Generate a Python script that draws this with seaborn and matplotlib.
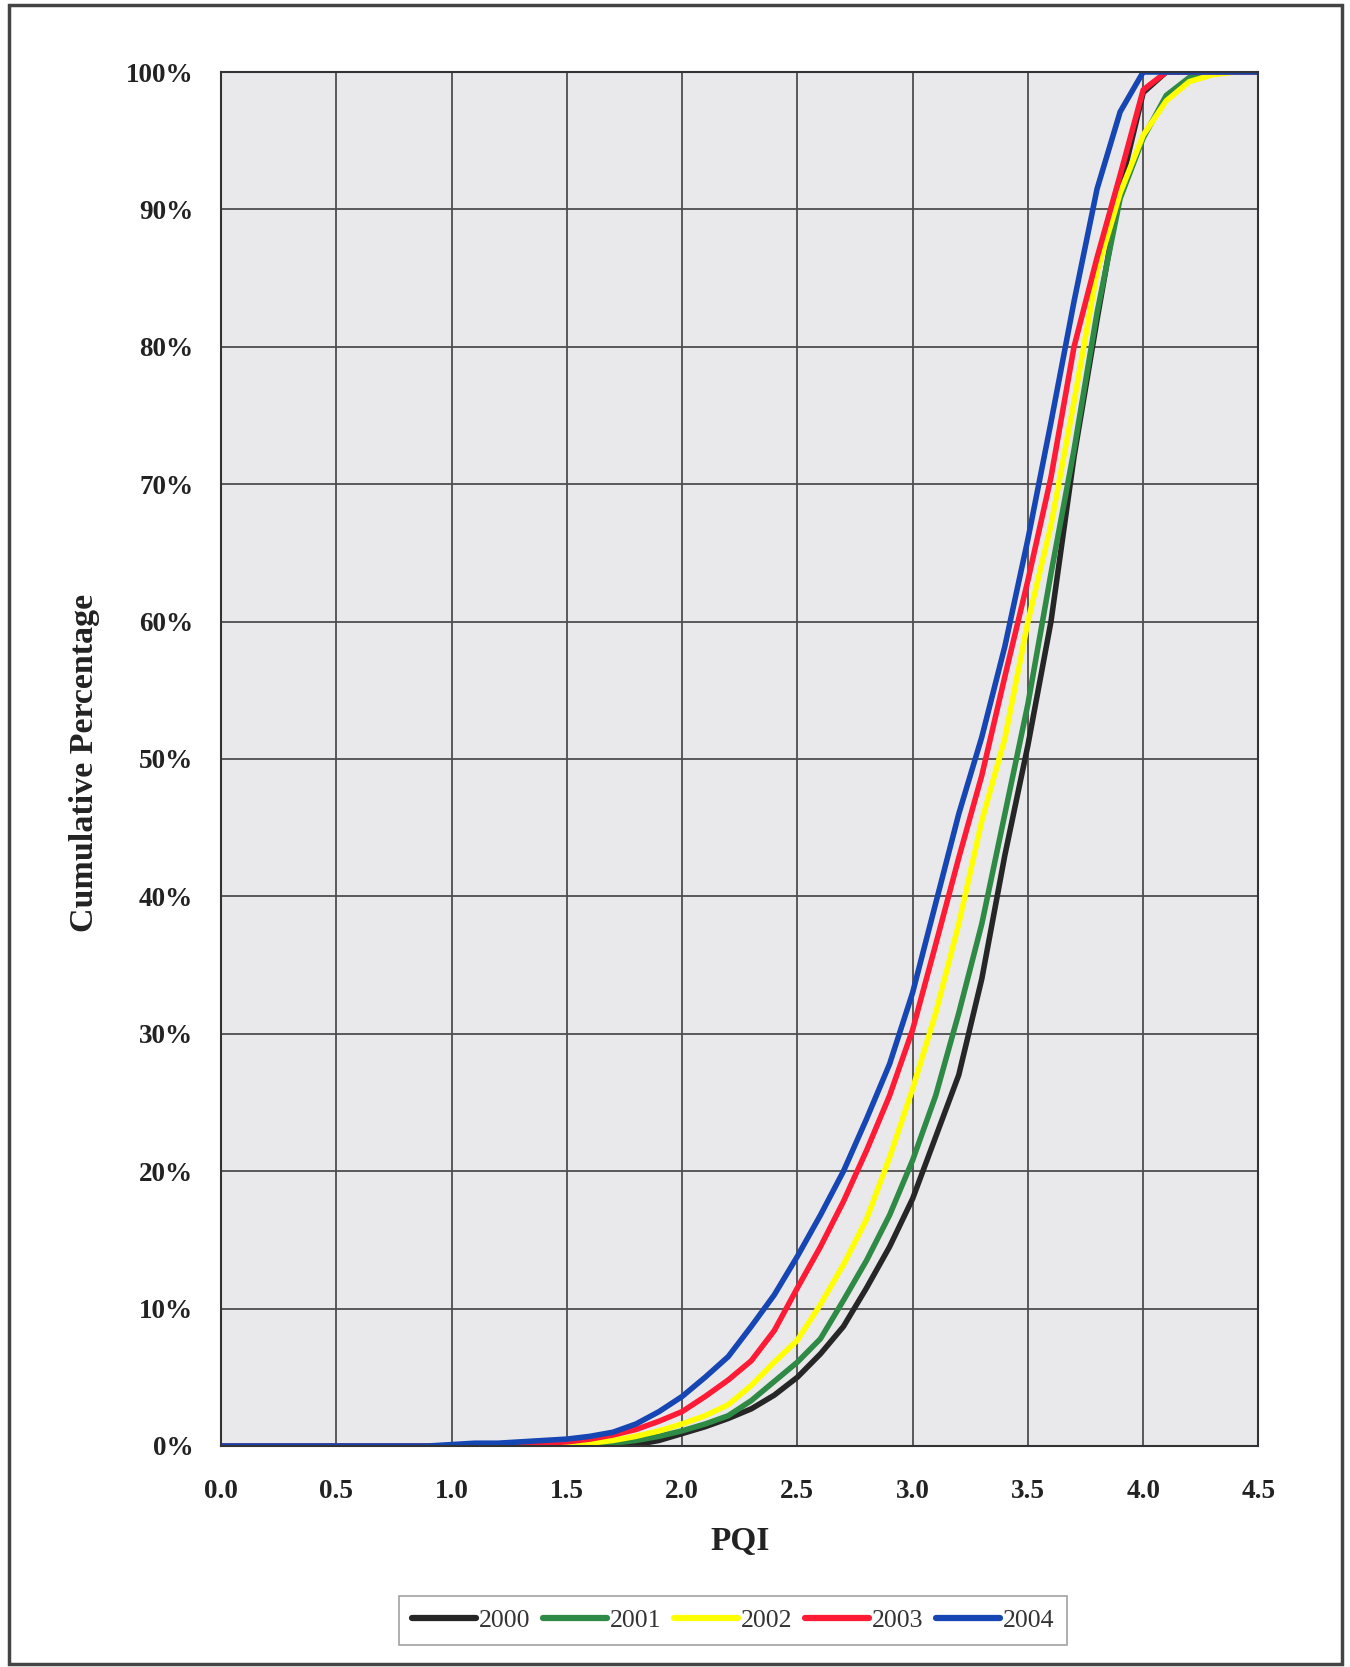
import pandas as pd
import matplotlib
matplotlib.use('Agg')
import matplotlib.pyplot as plt
from matplotlib.patches import Rectangle
from matplotlib.ticker import PercentFormatter, FormatStrFormatter
import seaborn as sns

# PQI values (x) and cumulative percentage per year
pqi = [0.0, 0.1, 0.2, 0.3, 0.4, 0.5, 0.6, 0.7, 0.8, 0.9,
       1.0, 1.1, 1.2, 1.3, 1.4, 1.5, 1.6, 1.7, 1.8, 1.9,
       2.0, 2.1, 2.2, 2.3, 2.4, 2.5, 2.6, 2.7, 2.8, 2.9,
       3.0, 3.1, 3.2, 3.3, 3.4, 3.5, 3.6, 3.7, 3.8, 3.9,
       4.0, 4.1, 4.2, 4.3, 4.4, 4.5]

cum_2000 = [0, 0, 0, 0, 0, 0, 0, 0, 0, 0,
            0, 0, 0, 0, 0, 0, 0, 0, 0.1, 0.4,
            0.9, 1.4, 2.0, 2.7, 3.7, 5.0, 6.7, 8.7, 11.5, 14.5,
            18.0, 22.5, 27.0, 34.0, 43.0, 51.0, 60.0, 72.0, 82.0, 91.5,
            98.5, 100, 100, 100, 100, 100]

cum_2001 = [0, 0, 0, 0, 0, 0, 0, 0, 0, 0,
            0, 0, 0, 0, 0, 0, 0.05, 0.2, 0.4, 0.7,
            1.1, 1.6, 2.2, 3.3, 4.7, 6.1, 7.8, 10.6, 13.5, 16.8,
            20.8, 25.5, 31.5, 38.0, 46.0, 54.0, 63.5, 72.5, 82.5, 90.8,
            95.2, 98.3, 99.6, 100, 100, 100]

cum_2002 = [0, 0, 0, 0, 0, 0, 0, 0, 0, 0,
            0, 0, 0, 0, 0.05, 0.1, 0.2, 0.4, 0.7, 1.1,
            1.6, 2.2, 3.0, 4.4, 6.1, 7.7, 10.3, 13.2, 16.5, 21.0,
            26.0, 31.5, 38.0, 45.5, 51.5, 60.0, 67.0, 76.0, 85.5, 91.2,
            95.4, 97.9, 99.3, 99.8, 100, 100]

cum_2003 = [0, 0, 0, 0, 0, 0, 0, 0, 0, 0,
            0, 0, 0, 0.1, 0.2, 0.3, 0.5, 0.8, 1.2, 1.8,
            2.5, 3.6, 4.8, 6.2, 8.4, 11.5, 14.5, 17.8, 21.5, 25.5,
            30.3, 36.5, 42.8, 48.8, 56.0, 63.0, 70.5, 80.0, 86.5, 92.5,
            98.7, 100, 100, 100, 100, 100]

cum_2004 = [0, 0, 0, 0, 0, 0, 0, 0, 0, 0,
            0.1, 0.2, 0.2, 0.3, 0.4, 0.5, 0.7, 1.0, 1.6, 2.5,
            3.6, 5.0, 6.5, 8.7, 11.0, 13.8, 16.8, 20.0, 23.8, 27.8,
            33.0, 39.5, 46.0, 51.6, 58.2, 66.0, 74.5, 83.3, 91.5, 97.1,
            100, 100, 100, 100, 100, 100]

years = ['2000', '2001', '2002', '2003', '2004']
series = [cum_2000, cum_2001, cum_2002, cum_2003, cum_2004]
colors = {'2000': '#262626', '2001': '#2e8a44', '2002': '#ffff00',
          '2003': '#ff1a35', '2004': '#1646b4'}

rows = []
for yr, vals in zip(years, series):
    for x, v in zip(pqi, vals):
        rows.append({'PQI': x, 'pct': v, 'year': yr})
df = pd.DataFrame(rows)

sns.set_style('white')
plt.rcParams['font.family'] = ['Liberation Serif', 'DejaVu Serif']

fig = plt.figure(figsize=(13.5, 16.67), dpi=100)
ax = fig.add_axes([0.1637, 0.1326, 0.7685, 0.8242])
ax.set_facecolor('#e9e9eb')

sns.lineplot(data=df, x='PQI', y='pct', hue='year', hue_order=years,
             palette=colors, linewidth=4, ax=ax)
handles, labels = ax.get_legend_handles_labels()
ax.get_legend().remove()

ax.set_xlim(0, 4.5)
ax.set_ylim(0, 100)
ax.set_xticks([0, 0.5, 1, 1.5, 2, 2.5, 3, 3.5, 4, 4.5])
ax.set_yticks(range(0, 101, 10))
ax.xaxis.set_major_formatter(FormatStrFormatter('%.1f'))
ax.yaxis.set_major_formatter(PercentFormatter(xmax=100, decimals=0))
ax.grid(True, color='#4d4d4d', linewidth=1.3)
ax.set_axisbelow(True)
for sp in ax.spines.values():
    sp.set_color('#333333')
    sp.set_linewidth(1.5)

ax.tick_params(axis='both', length=0, labelsize=19.5, colors='#222222')
ax.tick_params(axis='y', pad=20)
ax.tick_params(axis='x', pad=24)
for lab in ax.get_xticklabels() + ax.get_yticklabels():
    lab.set_fontweight('bold')

ax.set_xlabel('PQI', fontsize=24, fontweight='bold', color='#222222')
ax.set_ylabel('Cumulative Percentage', fontsize=24.5, fontweight='bold', color='#222222')
ax.xaxis.set_label_coords(0.5, -0.058)
ax.yaxis.set_label_coords(-0.117, 0.497)

for h in handles:
    h.set_linewidth(4.5)
leg = fig.legend(handles, labels, loc='center', bbox_to_anchor=(0.543, 0.028),
                 ncol=5, frameon=True, fancybox=False, fontsize=18.5,
                 handlelength=2.5, handletextpad=0.1, columnspacing=0.5,
                 borderpad=0.5)
leg.get_frame().set_edgecolor('#8a8a8a')
leg.get_frame().set_linewidth(1.2)
for t in leg.get_texts():
    t.set_color('#333333')

fig.patches.append(Rectangle((0.0067, 0.0018), 0.9873, 0.9952, transform=fig.transFigure,
                             fill=False, edgecolor='#444444', linewidth=2.5))

fig.savefig('out.png', dpi=100, facecolor='white')
